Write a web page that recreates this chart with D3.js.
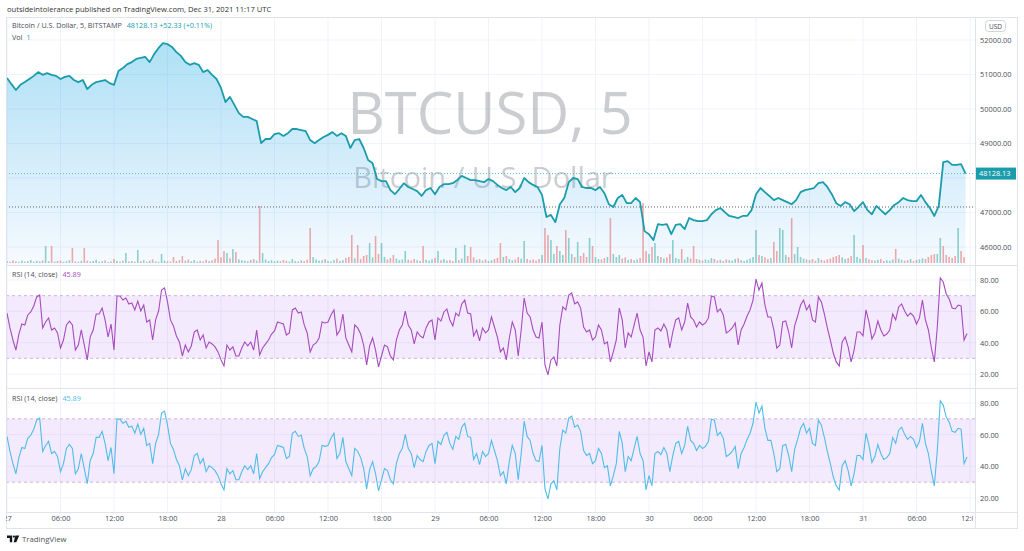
<!DOCTYPE html>
<html>
<head>
<meta charset="utf-8">
<script src="https://cdn.jsdelivr.net/npm/d3@7"></script>
<style>
  body { margin: 0; background: #fff; }
  svg { font-family: "Open Sans", "Noto Sans", sans-serif; }
</style>
</head>
<body>
<svg id="chart" width="1024" height="551"></svg>
<script>
// BTCUSD 5m, Dec 27 - Dec 31 2021
var startUtc = Date.UTC(2021, 11, 27, 0, 0);
var HOUR = 3600 * 1000;

// close price, one reading every 30 minutes
var priceStepHours = 0.5;
var priceClose = [
  50900, 50720, 50550, 50700, 50780, 50870, 50960, 51070, 50990, 51040,
  50990, 50960, 50870, 50930, 50960, 50840, 50780, 50840, 50580, 50700,
  50780, 50810, 50840, 50750, 50700, 51100, 51190, 51300, 51360, 51450,
  51480, 51510, 51360, 51590, 51770, 51910, 51880, 51800, 51650, 51540,
  51360, 51280, 51330, 51280, 51070, 51130, 50990, 50870, 50610, 50200,
  50350, 50120, 49880, 49770, 49770, 49710, 49650, 49010, 49130, 49130,
  49270, 49300, 49220, 49300, 49420, 49420, 49390, 49360, 49100, 49010,
  49100, 49190, 49250, 49330, 49220, 49300, 49220, 48870, 49100, 49130,
  48870, 48520, 48430, 47970, 47910, 47910, 47650, 47530, 47680, 47850,
  47740, 47680, 47620, 47480, 47650, 47710, 47530, 47740, 47820, 47820,
  47850, 47940, 48060, 48000, 47940, 47940, 47910, 47880, 47970, 47910,
  47800, 47710, 47650, 47740, 47590, 47710, 48000, 47880, 47800, 47740,
  47510, 46870, 46930, 46720, 47240, 47420, 47880, 48000, 47970, 47740,
  47710, 47710, 47650, 47740, 47560, 47240, 47160, 47420, 47510, 47270,
  47270, 47420, 47300, 46460, 46370, 46200, 46660, 46640, 46660, 46370,
  46640, 46660, 46520, 46840, 46780, 46750, 46750, 46780, 46950, 47070,
  47130, 47010, 46900, 46870, 46840, 46900, 46900, 47070, 47530, 47710,
  47590, 47480, 47360, 47420, 47360, 47300, 47240, 47360, 47590, 47650,
  47680, 47710, 47850, 47880, 47740, 47530, 47270, 47190, 47300, 47240,
  47040, 47160, 47300, 47070, 46950, 47190, 47070, 46950, 47070, 47220,
  47300, 47420, 47360, 47330, 47330, 47510, 47300, 47130, 46900, 47190,
  48460, 48490, 48380, 48380, 48400, 48128.13
];
var lastPrice = 48128.13;
var priceChange = 52.33;
var priceChangePct = 0.11;
var prevDayClose = 47160;

// RSI(14) readings every 20 minutes
var rsiStepHours = 1 / 3;
var rsiValues = [
  58.9, 49.4, 41.7, 35.3, 45.5, 51.9, 51.3, 57.7, 59.6, 63.4,
  69.2, 70.4, 49.4, 53.2, 55.8, 48.1, 49.4, 46.2, 36.6, 41.7,
  51.3, 53.8, 51.3, 35.3, 38.5, 48.1, 38.5, 29.0, 43.7, 48.1,
  58.3, 58.3, 62.1, 54.5, 43.6, 51.9, 35.3, 69.8, 69.8, 67.2,
  68.5, 64.7, 65.3, 60.9, 66.6, 60.2, 64.0, 53.2, 54.5, 41.7,
  54.5, 60.2, 73.6, 74.9, 66.0, 54.5, 50.7, 44.3, 40.4, 31.5,
  38.5, 34.1, 37.9, 46.8, 48.1, 41.7, 44.9, 36.6, 40.4, 39.2,
  37.3, 34.1, 29.0, 25.1, 38.5, 35.3, 37.3, 31.5, 31.5, 36.6,
  40.4, 37.9, 40.4, 35.3, 48.1, 32.2, 36.6, 39.2, 41.7, 45.5,
  47.5, 53.2, 52.6, 51.9, 44.9, 46.2, 60.9, 62.1, 58.9, 59.6,
  51.3, 46.2, 34.1, 38.5, 39.8, 43.0, 53.2, 52.6, 53.2, 57.7,
  60.9, 44.9, 48.1, 58.3, 43.0, 38.5, 34.1, 51.3, 49.4, 45.5,
  38.5, 25.8, 37.9, 43.0, 35.3, 24.5, 31.5, 38.5, 37.3, 31.5,
  29.0, 41.7, 48.1, 51.3, 60.2, 51.3, 48.1, 39.2, 46.8, 44.3,
  43.0, 49.4, 53.2, 54.5, 41.7, 55.8, 53.8, 59.6, 61.5, 54.5,
  50.7, 58.9, 57.0, 64.7, 67.2, 58.9, 58.3, 44.3, 48.1, 41.1,
  49.4, 46.2, 48.1, 56.4, 50.0, 43.6, 34.1, 36.6, 29.0, 43.0,
  53.2, 48.1, 31.5, 48.1, 68.5, 58.9, 56.4, 48.1, 43.6, 43.0,
  53.2, 25.8, 19.4, 29.0, 30.9, 25.1, 51.3, 62.8, 60.9, 70.4,
  71.7, 64.7, 66.0, 62.1, 50.0, 46.8, 48.1, 41.7, 43.6, 51.3,
  48.1, 39.2, 40.4, 27.7, 34.1, 41.7, 62.1, 54.5, 36.6, 46.2,
  43.6, 51.3, 58.9, 48.1, 43.6, 25.1, 34.1, 27.7, 48.1, 49.4,
  47.5, 51.9, 48.1, 36.6, 46.8, 54.5, 55.8, 48.1, 53.2, 65.3,
  56.4, 54.5, 50.0, 53.2, 51.3, 52.6, 55.8, 69.8, 69.2, 59.6,
  61.5, 57.7, 46.2, 47.5, 49.4, 52.6, 38.5, 48.1, 51.9, 57.0,
  60.9, 67.2, 80.6, 73.6, 78.1, 64.0, 56.4, 56.4, 48.1, 36.6,
  38.5, 53.2, 53.8, 46.8, 36.6, 50.7, 57.0, 64.0, 67.2, 60.9,
  64.0, 54.5, 53.2, 69.2, 66.0, 58.3, 49.4, 41.7, 33.4, 27.7,
  25.1, 40.4, 43.6, 37.3, 27.7, 35.3, 46.8, 46.8, 44.3, 60.9,
  53.2, 42.4, 46.2, 53.8, 48.1, 44.3, 45.5, 48.1, 58.3, 54.5,
  62.8, 64.7, 60.2, 57.0, 58.9, 57.0, 51.9, 55.8, 67.2, 54.5,
  48.1, 36.6, 27.7, 50.0, 81.3, 78.7, 71.1, 67.9, 62.1, 61.5,
  64.0, 63.4, 41.7, 45.89
];
var rsiLast = 45.89;

// volume (BTC) on the same 20-minute grid
var volumeValues = [
  10, 6, 14, 8, 5, 12, 7, 9, 15, 6, 11, 8, 13, 85, 9, 85, 7, 10, 12, 6,
  9, 14, 75, 8, 6, 11, 75, 12, 7, 10, 16, 6, 9, 13, 5, 8, 20, 11, 7, 12,
  50, 8, 10, 6, 65, 9, 14, 7, 11, 18, 8, 6, 45, 12, 9, 7, 30, 10, 14, 35,
  12, 18, 9, 15, 7, 11, 8, 16, 10, 14, 22, 115, 28, 60, 50, 24, 70, 55, 18, 14,
  12, 9, 15, 20, 12, 285, 50, 18, 10, 14, 8, 12, 9, 15, 11, 7, 20, 10, 8, 13,
  9, 16, 175, 30, 18, 12, 14, 20, 10, 8, 15, 22, 11, 14, 25, 30, 140, 24, 90, 20,
  35, 40, 100, 28, 135, 45, 100, 30, 18, 25, 40, 22, 14, 18, 60, 16, 12, 20, 14, 10,
  85, 16, 12, 18, 25, 60, 14, 20, 12, 15, 10, 75, 14, 22, 90, 35, 80, 28, 16, 20,
  12, 18, 10, 14, 20, 25, 100, 30, 35, 20, 14, 18, 30, 22, 110, 20, 14, 18, 12, 20,
  40, 175, 140, 115, 45, 85, 60, 40, 165, 125, 45, 30, 105, 35, 50, 30, 125, 85, 30, 20,
  18, 25, 30, 225, 45, 30, 40, 22, 28, 16, 20, 14, 18, 25, 300, 60, 45, 80, 100, 35,
  30, 22, 28, 45, 115, 25, 20, 70, 18, 30, 22, 85, 20, 16, 12, 18, 14, 25, 20, 12,
  16, 10, 18, 14, 12, 20, 24, 14, 10, 16, 22, 30, 165, 40, 35, 28, 20, 25, 105, 60,
  175, 165, 40, 30, 225, 45, 80, 30, 22, 18, 14, 20, 12, 25, 16, 12, 18, 22, 30, 35,
  40, 28, 20, 25, 35, 140, 30, 22, 90, 25, 18, 14, 12, 16, 20, 10, 14, 12, 18, 70,
  22, 16, 12, 14, 20, 10, 16, 18, 24, 20, 30, 40, 45, 45, 125, 85, 40, 30, 25, 35,
  175, 60, 30
];

var priceTicks = [46000, 47000, 48000, 49000, 50000, 51000, 52000];
var rsiTicks = [20, 40, 60, 80];
var rsiBand = [30, 70];
var timeTickHours = [0, 6, 12, 18, 24, 30, 36, 42, 48, 54, 60, 66, 72, 78, 84, 90, 96, 102, 108];
var timeTickLabels = ["27", "06:00", "12:00", "18:00", "28", "06:00", "12:00", "18:00",
  "29", "06:00", "12:00", "18:00", "30", "06:00", "12:00", "18:00", "31", "06:00", "12:00"];

// ---- layout
var plotLeft = 6, plotRight = 975, frameRight = 1017;
var paneTop = 17, pane1Bottom = 265, pane2Bottom = 388, pane3Bottom = 512, frameBottom = 528;
var gridColor = "#f0f3fa", borderColor = "#e0e3eb", textColor = "#4a4e59";
var teal = "#1a9cab";

var svg = d3.select("#chart");
var defs = svg.append("defs");

function at(hours) { return new Date(startUtc + hours * HOUR); }

var x = d3.scaleUtc().domain([at(0), at(108)]).range([7, 970]);
var yPrice = d3.scaleLinear().domain([46000, 52000]).range([247, 40]);
var yVol = d3.scaleLinear().domain([0, 300]).range([263, 203]);
var yRsi1 = d3.scaleLinear().domain([20, 80]).range([374, 280]);
var yRsi2 = d3.scaleLinear().domain([20, 80]).range([498, 403]);

defs.append("clipPath").attr("id", "plotClip")
  .append("rect").attr("x", plotLeft).attr("y", paneTop)
  .attr("width", plotRight - plotLeft).attr("height", pane3Bottom - paneTop);
defs.append("clipPath").attr("id", "timeClip")
  .append("rect").attr("x", plotLeft).attr("y", pane3Bottom)
  .attr("width", plotRight - plotLeft - 2).attr("height", frameBottom - pane3Bottom);

var grad = defs.append("linearGradient").attr("id", "areaGrad")
  .attr("gradientUnits", "userSpaceOnUse")
  .attr("x1", 0).attr("y1", 40).attr("x2", 0).attr("y2", pane1Bottom);
grad.append("stop").attr("offset", 0).attr("stop-color", "rgb(41,176,226)").attr("stop-opacity", 0.38);
grad.append("stop").attr("offset", 1).attr("stop-color", "rgb(33,150,243)").attr("stop-opacity", 0.04);

var plot = svg.append("g").attr("clip-path", "url(#plotClip)");

// vertical grid in all panes
var tickDates = timeTickHours.map(at);
plot.append("g").selectAll("line").data(tickDates).enter().append("line")
  .attr("x1", function (d) { return x(d); }).attr("x2", function (d) { return x(d); })
  .attr("y1", paneTop).attr("y2", pane3Bottom)
  .attr("stroke", gridColor).attr("stroke-width", 1);

// horizontal grid
plot.append("g").selectAll("line").data(priceTicks).enter().append("line")
  .attr("x1", plotLeft).attr("x2", plotRight)
  .attr("y1", function (d) { return yPrice(d); }).attr("y2", function (d) { return yPrice(d); })
  .attr("stroke", gridColor);
[yRsi1, yRsi2].forEach(function (ys) {
  plot.append("g").selectAll("line").data(rsiTicks).enter().append("line")
    .attr("x1", plotLeft).attr("x2", plotRight)
    .attr("y1", function (d) { return ys(d); }).attr("y2", function (d) { return ys(d); })
    .attr("stroke", gridColor);
});

// watermark
var wm = plot.append("g").attr("fill", "#787b86").attr("fill-opacity", 0.38).attr("text-anchor", "middle");
wm.append("text").attr("x", 490).attr("y", 134).attr("font-size", 58).text("BTCUSD, 5");
wm.append("text").attr("x", 483).attr("y", 188).attr("font-size", 29).text("Bitcoin / U.S. Dollar");

// volume
var rsiTime = function (i) { return at(i * rsiStepHours); };
plot.append("g").selectAll("rect").data(volumeValues).enter().append("rect")
  .attr("x", function (d, i) { return x(rsiTime(i)) - 0.8; })
  .attr("width", 1.6)
  .attr("y", function (d) { return yVol(d); })
  .attr("height", function (d) { return yVol(0) - yVol(d); })
  .attr("fill", function (d, i) {
    var up = i === 0 || rsiValues[i] >= rsiValues[i - 1];
    return up ? "rgba(38,166,154,0.5)" : "rgba(239,83,80,0.5)";
  });

// price area + line
var priceTime = function (i) { return at(i * priceStepHours); };
var area = d3.area()
  .x(function (d, i) { return x(priceTime(i)); })
  .y0(pane1Bottom)
  .y1(function (d) { return yPrice(d); });
var line = d3.line()
  .x(function (d, i) { return x(priceTime(i)); })
  .y(function (d) { return yPrice(d); });
plot.append("path").datum(priceClose).attr("d", area).attr("fill", "url(#areaGrad)");

plot.append("line").attr("x1", plotLeft).attr("x2", plotRight)
  .attr("y1", yPrice(prevDayClose)).attr("y2", yPrice(prevDayClose))
  .attr("stroke", "#5d606b").attr("stroke-width", 1).attr("stroke-dasharray", "1,2");
plot.append("line").attr("x1", plotLeft).attr("x2", plotRight)
  .attr("y1", yPrice(lastPrice)).attr("y2", yPrice(lastPrice))
  .attr("stroke", "#5fc1cc").attr("stroke-width", 1).attr("stroke-dasharray", "1,2");

plot.append("path").datum(priceClose).attr("d", line)
  .attr("fill", "none").attr("stroke", teal).attr("stroke-width", 1.8).attr("stroke-linejoin", "round");

// RSI panes
function rsiPane(ys, color) {
  plot.append("rect").attr("x", plotLeft).attr("width", plotRight - plotLeft)
    .attr("y", ys(rsiBand[1])).attr("height", ys(rsiBand[0]) - ys(rsiBand[1]))
    .attr("fill", "rgba(150,45,232,0.1)");
  rsiBand.forEach(function (v) {
    plot.append("line").attr("x1", plotLeft).attr("x2", plotRight)
      .attr("y1", ys(v)).attr("y2", ys(v))
      .attr("stroke", "#c9b6d9").attr("stroke-dasharray", "3,3");
  });
  var l = d3.line()
    .x(function (d, i) { return x(rsiTime(i)); })
    .y(function (d) { return ys(d); });
  plot.append("path").datum(rsiValues).attr("d", l)
    .attr("fill", "none").attr("stroke", color).attr("stroke-width", 1.1);
}
rsiPane(yRsi1, "#a64bbf");
rsiPane(yRsi2, "#4fbde9");

// frame
var frame = svg.append("g").attr("stroke", borderColor).attr("fill", "none");
frame.append("rect").attr("x", plotLeft + 0.5).attr("y", paneTop + 0.5)
  .attr("width", frameRight - plotLeft).attr("height", frameBottom - paneTop);
[pane1Bottom, pane2Bottom, pane3Bottom].forEach(function (yy) {
  frame.append("line").attr("x1", plotLeft).attr("x2", frameRight).attr("y1", yy + 0.5).attr("y2", yy + 0.5);
});
frame.append("line").attr("x1", plotRight + 0.5).attr("x2", plotRight + 0.5).attr("y1", paneTop).attr("y2", frameBottom);

// price axis (labels hidden behind the last-price badge are dropped, as on TradingView)
var fmt2 = d3.format(".2f");
function rightAxis(scale, ticks) {
  var g = svg.append("g").attr("transform", "translate(" + 980 + ",0)")
    .call(d3.axisRight(scale).tickValues(ticks).tickSize(0).tickPadding(0).tickFormat(fmt2));
  g.select(".domain").remove();
  g.selectAll("text").attr("fill", textColor).attr("font-size", 7.4)
    .attr("font-family", "'Open Sans', sans-serif");
  return g;
}
var priceAxis = rightAxis(yPrice, priceTicks);
priceAxis.selectAll(".tick").filter(function (d) {
  return Math.abs(yPrice(d) - yPrice(lastPrice)) < 10;
}).remove();
rightAxis(yRsi1, rsiTicks);
rightAxis(yRsi2, rsiTicks);

// USD badge
svg.append("rect").attr("x", 985.5).attr("y", 20.5).attr("width", 20).attr("height", 11).attr("rx", 3)
  .attr("fill", "#fff").attr("stroke", "#d1d4dc");
svg.append("text").attr("x", 995.5).attr("y", 28.6).attr("text-anchor", "middle")
  .attr("font-size", 6.6).attr("fill", textColor).text("USD");

// last price label
svg.append("rect").attr("x", 976).attr("y", yPrice(lastPrice) - 6).attr("width", 40).attr("height", 12).attr("fill", teal);
svg.append("text").attr("x", 979).attr("y", yPrice(lastPrice) + 2.6)
  .attr("font-size", 7.4).attr("fill", "#fff").text(fmt2(lastPrice));

// time axis
var tAxis = svg.append("g").attr("clip-path", "url(#timeClip)")
  .append("g").attr("transform", "translate(0," + (pane3Bottom + 4) + ")")
  .call(d3.axisBottom(x).tickValues(tickDates).tickSize(0).tickPadding(0)
    .tickFormat(function (d, i) { return timeTickLabels[i]; }));
tAxis.select(".domain").remove();
tAxis.selectAll("text").attr("fill", textColor).attr("font-size", 7.4)
  .attr("font-family", "'Open Sans', sans-serif");

// header + legends
svg.append("text").attr("x", 7).attr("y", 12).attr("font-size", 7.6).attr("fill", "#333")
  .text("outsideintolerance published on TradingView.com, Dec 31, 2021 11:17 UTC");

var leg = svg.append("text").attr("x", 12).attr("y", 28).attr("font-size", 7.2).attr("fill", textColor);
leg.append("tspan").text("Bitcoin / U.S. Dollar, 5, BITSTAMP");
leg.append("tspan").attr("dx", 5).attr("fill", teal)
  .text(fmt2(lastPrice) + "  +" + fmt2(priceChange) + " (+" + fmt2(priceChangePct) + "%)");

var vol = svg.append("text").attr("x", 12).attr("y", 40).attr("font-size", 7.2).attr("fill", textColor);
vol.append("tspan").text("Vol");
vol.append("tspan").attr("dx", 4).attr("fill", teal).text("1");

[[277, "#a64bbf"], [401, "#4fbde9"]].forEach(function (r) {
  var t = svg.append("text").attr("x", 12).attr("y", r[0]).attr("font-size", 7.2).attr("fill", textColor);
  t.append("tspan").text("RSI (14, close)");
  t.append("tspan").attr("dx", 5).attr("fill", r[1]).text(fmt2(rsiLast));
});

// TradingView logo
var logo = svg.append("g").attr("fill", "#131722");
logo.append("path").attr("d", "M7 535.5h5.2v6.8h-2.4v-4.4H7z");
logo.append("circle").attr("cx", 13.9).attr("cy", 536.6).attr("r", 1.1);
logo.append("path").attr("d", "M15.4 535.5h3.8l-2.9 6.8h-2.6z");
svg.append("text").attr("x", 22).attr("y", 542).attr("font-size", 7.8).attr("fill", "#50535e").text("TradingView");
</script>
</body>
</html>
